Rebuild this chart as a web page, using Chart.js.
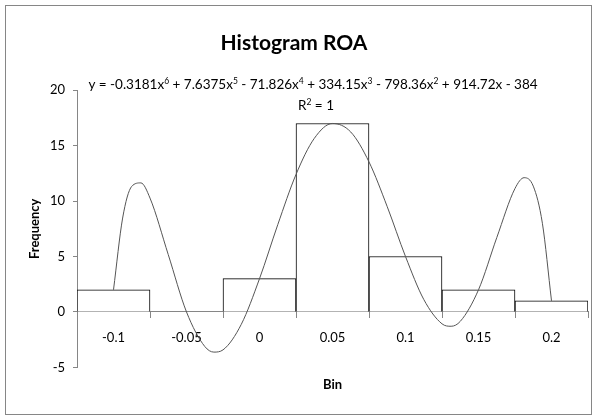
<!DOCTYPE html>
<html>
<head>
<meta charset="utf-8">
<script src="https://cdn.jsdelivr.net/npm/chart.js@4.4.0/dist/chart.umd.min.js"></script>
<style>
  html, body { margin: 0; padding: 0; background: #fff; }
</style>
</head>
<body>
<canvas id="myChart" width="597" height="420"></canvas>
<script>
// histogram bins and counts
const bins = ['-0.1', '-0.05', '0', '0.05', '0.1', '0.15', '0.2'];
const frequency = [2, 0, 3, 17, 5, 2, 1];

// poly trendline (x = bin number 1..7)
const trendX = [1, 1.125, 1.25, 1.375, 1.5, 1.75, 2, 2.25, 2.375, 2.5, 2.75, 3, 3.25, 3.5, 3.75, 4,
                4.25, 4.5, 4.75, 5, 5.25, 5.5, 5.625, 5.75, 6, 6.25, 6.5, 6.625, 6.75, 6.875, 7];
const trendY = [2, 8.47, 11.33, 11.64, 10.27, 5.17, 0, -3.11, -3.62, -3.42, -1.12, 3, 7.87, 12.4, 15.65, 17,
                16.23, 13.53, 9.49, 5, 1.13, -1.07, -1.29, -0.85, 2, 6.7, 11.14, 12.11, 11.35, 8.0, 1];

// y axis ticks
const yMin = -5, yMax = 20, yStep = 5;

// trendline label, [text, superscript?]
const equation = [
  ['y = -0.3181x', false], ['6', true],
  [' + 7.6375x', false], ['5', true],
  [' - 71.826x', false], ['4', true],
  [' + 334.15x', false], ['3', true],
  [' - 798.36x', false], ['2', true],
  [' + 914.72x - 384', false]
];
const rSquared = [['R', false], ['2', true], [' = 1', false]];

const FONT = 'Lato, "Open Sans", sans-serif';
Chart.defaults.font.family = FONT;
Chart.defaults.color = '#000';

// draws a text made of normal + superscript pieces, centred on cx
function drawRich(ctx, parts, cx, cy) {
  const big = '13.5px ' + FONT, small = '8.5px ' + FONT;
  let w = 0;
  parts.forEach(p => { ctx.font = p[1] ? small : big; w += ctx.measureText(p[0]).width; });
  let x = cx - w / 2;
  ctx.textBaseline = 'alphabetic';
  ctx.textAlign = 'left';
  parts.forEach(p => {
    ctx.font = p[1] ? small : big;
    ctx.fillText(p[0], x, p[1] ? cy - 5 : cy);
    x += ctx.measureText(p[0]).width;
  });
}

const extras = {
  id: 'extras',
  beforeDraw(chart) {
    const ctx = chart.ctx;
    ctx.save();
    ctx.strokeStyle = '#868686';
    ctx.lineWidth = 1;
    ctx.strokeRect(5.5, 5.5, chart.width - 11, chart.height - 11);
    ctx.restore();
  },
  afterDraw(chart) {
    const ctx = chart.ctx, a = chart.chartArea;
    ctx.save();
    ctx.fillStyle = '#000';
    drawRich(ctx, equation, a.left + 236, a.top - 1);
    drawRich(ctx, rSquared, a.left + 239, a.top + 20);
    ctx.restore();
  }
};

const ctx = document.getElementById('myChart').getContext('2d');
const myChart = new Chart(ctx, {
  data: {
    labels: bins,
    datasets: [{
      type: 'line',
      label: 'Poly. (Frequency)',
      data: trendX.map((x, i) => ({ x: x, y: trendY[i] })),
      xAxisID: 'xc',
      yAxisID: 'y',
      borderColor: '#555',
      borderWidth: 1,
      pointRadius: 0,
      fill: false,
      cubicInterpolationMode: 'monotone',
      order: 0
    }, {
      type: 'bar',
      label: 'Frequency',
      data: frequency,
      xAxisID: 'x',
      yAxisID: 'y',
      backgroundColor: '#fff',
      borderColor: '#000',
      borderWidth: 1,
      barPercentage: 1,
      categoryPercentage: 1,
      grouped: false,
      order: 1
    }]
  },
  options: {
    responsive: false,
    animation: false,
    layout: { padding: { left: 0, right: 9, top: 0, bottom: 0 } },
    scales: {
      x: {
        type: 'category',
        position: { y: 0 },
        offset: true,
        grid: { offset: true, drawOnChartArea: false, tickLength: 6, color: '#868686' },
        border: { color: '#868686' },
        ticks: { padding: 12, maxRotation: 0, font: { size: 13 } }
      },
      xc: {
        type: 'linear',
        axis: 'x',
        display: false,
        min: 0.5,
        max: 7.5
      },
      y: {
        min: yMin,
        max: yMax,
        ticks: { stepSize: yStep, padding: 8, font: { size: 13 } },
        grid: { drawOnChartArea: false, tickLength: 4, color: '#868686' },
        border: { color: '#868686' },
        title: {
          display: true,
          text: 'Frequency',
          font: { size: 13, weight: 'bold' },
          padding: { top: 27, bottom: 0 }
        },
        afterFit(scale) { scale.width = 77; }
      }
    },
    plugins: {
      legend: { display: false },
      tooltip: { enabled: false },
      title: {
        display: true,
        text: 'Histogram ROA',
        font: { size: 21, weight: 'bold' },
        padding: { top: 31, bottom: 34 }
      },
      subtitle: {
        display: true,
        position: 'bottom',
        text: 'Bin',
        fullSize: false,
        font: { size: 13, weight: 'bold' },
        padding: { top: 10, bottom: 27 }
      }
    }
  },
  plugins: [extras]
});
</script>
</body>
</html>
